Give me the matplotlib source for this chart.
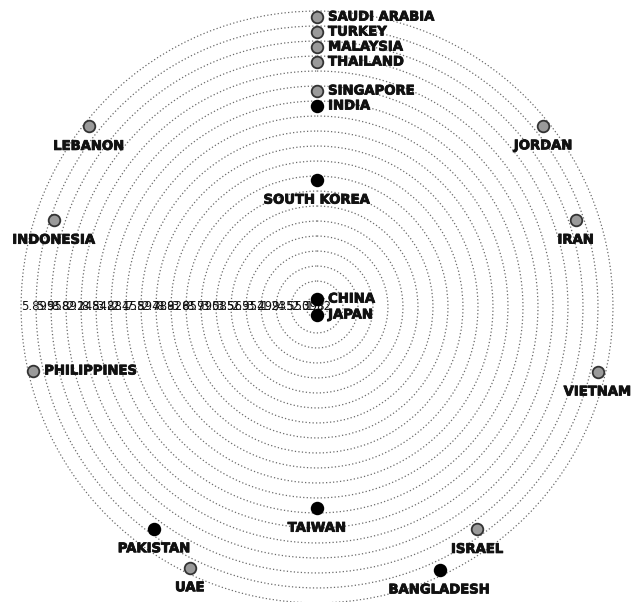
import numpy as np
import matplotlib

matplotlib.use("Agg")
import matplotlib.pyplot as plt
import matplotlib.patheffects as pe

# country markers: angle in degrees clockwise from top, radial value
countries = [
    "SAUDI ARABIA", "TURKEY", "MALAYSIA", "THAILAND", "SINGAPORE", "INDIA",
    "SOUTH KOREA", "CHINA", "JAPAN", "TAIWAN", "LEBANON", "INDONESIA",
    "PHILIPPINES", "PAKISTAN", "UAE", "BANGLADESH", "ISRAEL", "VIETNAM",
    "IRAN", "JORDAN",
]
angles = [0, 0, 0, 0, 0, 0, 0, 0, 180, 180, 308.4, 288.3,
          257.3, 216.3, 206, 155, 144.2, 103, 71.4, 51.3]
values = [19.33, 18.33, 17.33, 16.33, 14.4, 13.4, 8.47, 0.53, 0.53, 13.4,
          19.4, 18.47, 19.4, 18.33, 19.33, 19.33, 18.27, 19.2, 18.2, 19.33]
groups = ["grey", "grey", "grey", "grey", "grey", "black", "black", "black",
          "black", "black", "grey", "grey", "grey", "black", "grey", "black",
          "grey", "grey", "grey", "grey"]

ring_values = [0.73 + k for k in range(20)]
ring_labels = ["1.52", "2.398", "4.550", "1.235", "3.299", "2.954", "3.563",
               "3.585", "8.990", "3.657", "8.928", "2.788", "7.894", "2.155",
               "3.884", "8.842", "2.145", "8.892", "5.558", "5.899"]

label_right = {"SAUDI ARABIA", "TURKEY", "MALAYSIA", "THAILAND", "SINGAPORE",
               "INDIA", "CHINA", "JAPAN", "PHILIPPINES"}

W, H, DPI = 634, 602, 100
rmax = 19.8
unit_px = 15.0
cx, cy = 317, 307
rad_px = rmax * unit_px

fig = plt.figure(figsize=(W / DPI, H / DPI), dpi=DPI)
ax = fig.add_axes([(cx - rad_px) / W, (H - cy - rad_px) / H,
                   2 * rad_px / W, 2 * rad_px / H], projection="polar")
ax.set_theta_zero_location("N")
ax.set_theta_direction(-1)
ax.set_ylim(0, rmax)
ax.set_yticks(ring_values)
ax.set_yticklabels([])
ax.set_xticks([])
ax.spines["polar"].set_visible(False)
ax.grid(True, axis="y", color="#6a6a6a", linewidth=0.9, linestyle=(0, (1, 1.8)))
ax.grid(False, axis="x")
ax.set_facecolor("none")

for r, lab in zip(ring_values, ring_labels):
    ax.text(np.radians(270), r, lab, ha="left", va="center", fontsize=8.5,
            family="DejaVu Sans", color="#111111", zorder=3)

bold = [pe.withStroke(linewidth=0.6, foreground="#111111")]
theta = np.radians(angles)
for name, t, v, g in zip(countries, theta, values, groups):
    face = "#9a9a9a" if g == "grey" else "#000000"
    ax.scatter([t], [v], s=70, c=face, edgecolors="#333333" if g == "grey" else "#000000",
               linewidths=1.3, zorder=5, clip_on=False)
    if name in label_right:
        ax.annotate(name, (t, v), xytext=(8, 0), textcoords="offset points",
                    ha="left", va="center", fontsize=9.5, fontweight="bold",
                    color="#111111", zorder=6, annotation_clip=False,
                    path_effects=bold)
    else:
        ax.annotate(name, (t, v), xytext=(0, -14.5), textcoords="offset points",
                    ha="center", va="center", fontsize=9.5, fontweight="bold",
                    color="#111111", zorder=6, annotation_clip=False,
                    path_effects=bold)

fig.savefig("out.png", dpi=DPI, facecolor="white")
